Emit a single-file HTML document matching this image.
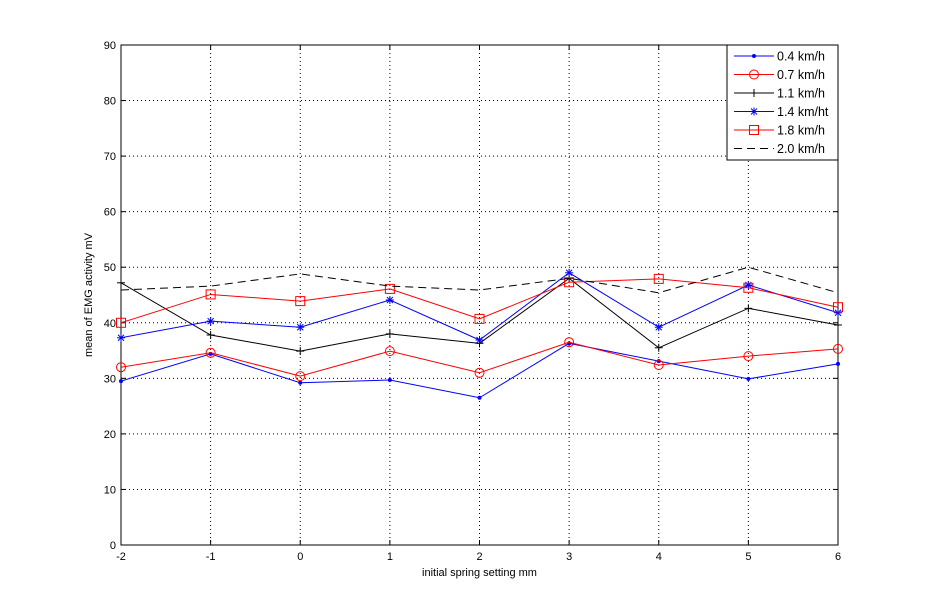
<!DOCTYPE html>
<html><head><meta charset="utf-8"><style>
html,body{margin:0;padding:0;background:#fff;}
svg{display:block;font-family:"Liberation Sans",sans-serif;}
</style></head><body>
<svg id="chart" width="927" height="612" xmlns="http://www.w3.org/2000/svg"></svg>
<script>
const categories = [-2,-1,0,1,2,3,4,5,6];
const s04 = [29.5,34.4,29.2,29.7,26.5,36.3,33.1,29.9,32.6];
const s07 = [32.0,34.6,30.4,34.9,31.0,36.5,32.4,34.0,35.3];
const s11 = [47.2,37.8,34.9,38.0,36.3,48.0,35.5,42.6,39.6];
const s14 = [37.3,40.3,39.2,44.1,36.9,49.0,39.2,46.8,41.8];
const s18 = [40.0,45.1,43.9,46.1,40.7,47.3,47.9,46.3,42.8];
const s20 = [45.9,46.6,48.8,46.6,45.9,48.0,45.4,50.0,45.4];
const yTicks = [0,10,20,30,40,50,60,70,80,90];
const seriesNames = ["0.4 km/h","0.7 km/h","1.1 km/h","1.4 km/ht","1.8 km/h","2.0 km/h"];

const NS="http://www.w3.org/2000/svg";
const svg=document.getElementById('chart');
const L=121,R=838,T=45,B=545;
const xs=v=>L+(v+2)/8*(R-L);
const ys=v=>B-v/90*(B-T);
function mk(tag,attrs,parent){const e=document.createElementNS(NS,tag);for(const k in attrs)e.setAttribute(k,attrs[k]);(parent||svg).appendChild(e);return e;}

const grid=mk('g',{});


categories.forEach(c=>{if(c>-2&&c<6)mk('line',{x1:xs(c),x2:xs(c),y1:T,y2:B,stroke:'#000','stroke-width':1,'stroke-dasharray':'1,3'},grid);});
yTicks.forEach(t=>{if(t>0&&t<90)mk('line',{x1:L,x2:R,y1:ys(t),y2:ys(t),stroke:'#000','stroke-width':1,'stroke-dasharray':'1,3'},grid);});

const box=mk('rect',{x:L,y:T,width:R-L,height:B-T,fill:'none',stroke:'#000','stroke-width':1});



const xax=mk('g',{});


categories.forEach(c=>{
  mk('line',{x1:xs(c),x2:xs(c),y1:B,y2:B-5,stroke:'#000'},xax);
  mk('line',{x1:xs(c),x2:xs(c),y1:T,y2:T+5,stroke:'#000'},xax);
  const t=mk('text',{x:xs(c),y:B+15,'text-anchor':'middle','font-size':11},xax);t.textContent=c;
});
const yax=mk('g',{});


yTicks.forEach(v=>{
  mk('line',{x1:L,x2:L+5,y1:ys(v),y2:ys(v),stroke:'#000'},yax);
  mk('line',{x1:R,x2:R-5,y1:ys(v),y2:ys(v),stroke:'#000'},yax);
  const t=mk('text',{x:L-5,y:ys(v)+4,'text-anchor':'end','font-size':11},yax);t.textContent=v;
});
const xt=mk('text',{x:(L+R)/2,y:576,'text-anchor':'middle','font-size':11});
xt.textContent='initial spring setting mm';


const yt=mk('text',{x:92,y:(T+B)/2,'text-anchor':'middle','font-size':11,transform:'rotate(-90 92 '+((T+B)/2)+')'});
yt.textContent='mean of EMG activity mV';



function marker(g,type,x,y,color){
  if(type==='dot'){mk('circle',{cx:x,cy:y,r:2,fill:color},g);}
  else if(type==='circle'){mk('circle',{cx:x,cy:y,r:4.5,fill:'none',stroke:color},g);}
  else if(type==='plus'){mk('line',{x1:x-4,x2:x+4,y1:y,y2:y,stroke:color},g);mk('line',{x1:x,x2:x,y1:y-4,y2:y+4,stroke:color},g);}
  else if(type==='star'){mk('line',{x1:x-4,x2:x+4,y1:y,y2:y,stroke:color},g);mk('line',{x1:x,x2:x,y1:y-4,y2:y+4,stroke:color},g);mk('line',{x1:x-3,x2:x+3,y1:y-3,y2:y+3,stroke:color},g);mk('line',{x1:x-3,x2:x+3,y1:y+3,y2:y-3,stroke:color},g);}
  else if(type==='square'){mk('rect',{x:x-4.5,y:y-4.5,width:9,height:9,fill:'none',stroke:color},g);}
}
const series=[
 {d:s04,c:'#0000ff',m:'dot',dash:null,n:'series-0-4'},
 {d:s07,c:'#ff0000',m:'circle',dash:null,n:'series-0-7'},
 {d:s11,c:'#000000',m:'plus',dash:null,n:'series-1-1'},
 {d:s14,c:'#0000ff',m:'star',dash:null,n:'series-1-4'},
 {d:s18,c:'#ff0000',m:'square',dash:null,n:'series-1-8'},
 {d:s20,c:'#000000',m:null,dash:'8,5',n:'series-2-0'}
];
series.forEach(s=>{
  const g=mk('g',{});
  
  
  const pts=s.d.map((v,i)=>xs(categories[i])+','+ys(v)).join(' ');
  const pl=mk('polyline',{points:pts,fill:'none',stroke:s.c,'stroke-width':1},g);
  if(s.dash)pl.setAttribute('stroke-dasharray',s.dash);
  if(s.m)s.d.forEach((v,i)=>marker(g,s.m,xs(categories[i]),ys(v),s.c));
});

const lg=mk('g',{});


mk('rect',{x:727,y:45,width:111,height:115,fill:'#fff',stroke:'#000'},lg);
series.forEach((s,i)=>{
  const y=56+i*18.5;
  const e=mk('g',{},lg);
  
  
  const ln=mk('line',{x1:734,x2:774,y1:y,y2:y,stroke:s.c},e);
  if(s.dash)ln.setAttribute('stroke-dasharray','8,5');
  if(s.m)marker(e,s.m,754,y,s.c);
  const t=mk('text',{x:777,y:y+4.5,'font-size':12.5},e);t.textContent=seriesNames[i];
});
</script>
</body></html>
